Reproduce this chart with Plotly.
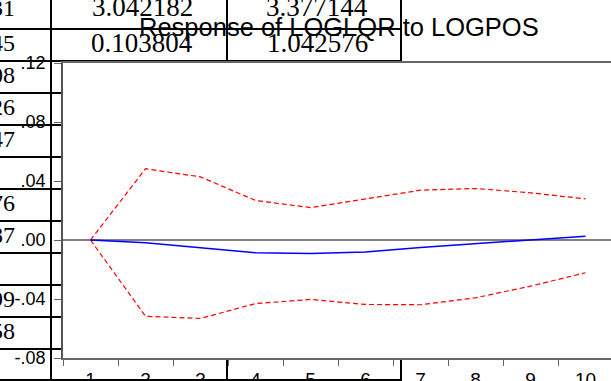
import plotly.graph_objects as go

# ---- data ----
periods = ["1", "2", "3", "4", "5", "6", "7", "8", "9", "10"]
response = [0.0, -0.0019, -0.0053, -0.0087, -0.0092, -0.0081, -0.0050, -0.0025, 0.0000, 0.0026]
upper_band = [0.0, 0.0483, 0.0428, 0.0268, 0.0220, 0.0281, 0.0338, 0.0349, 0.0320, 0.0279]
lower_band = [0.0, -0.0517, -0.0532, -0.0431, -0.0403, -0.0437, -0.0439, -0.0392, -0.0313, -0.0222]
y_tickvals = [-0.08, -0.04, 0.0, 0.04, 0.08, 0.12]
y_ticktext = ["-.08", "-.04", ".00", ".04", ".08", ".12"]
title_text = "Response of LOGLQR to LOGPOS"

# background table (visible around the chart)
table_top_rows = [["3.042182", "3.377144"], ["0.103804", "1.042576"]]
table_left_col = ["31", "45", "08", "26", "47", "", "76", "87", "", "99", "58", ""]

# ---- geometry (pixels) ----
W, H = 611, 381
L, R, T, B = 63, 0, 63, 23
PW, PH = W - L - R, H - T - B


def px(x):
    return (x - L) / PW


def py(y):
    return (H - B - y) / PH


fig = go.Figure()
fig.add_trace(go.Scatter(x=periods, y=upper_band, mode="lines",
                         line=dict(color="#ff0000", width=1.2, dash="5px,3px"),
                         showlegend=False, hoverinfo="skip"))
fig.add_trace(go.Scatter(x=periods, y=lower_band, mode="lines",
                         line=dict(color="#ff0000", width=1.2, dash="5px,3px"),
                         showlegend=False, hoverinfo="skip"))
fig.add_trace(go.Scatter(x=periods, y=response, mode="lines",
                         line=dict(color="#0000ff", width=1.5),
                         showlegend=False, hoverinfo="skip"))

shapes = []
blk = dict(color="black", width=2)


def seg(x0, y0, x1, y1):
    shapes.append(dict(type="line", xref="paper", yref="paper",
                       x0=px(x0), y0=py(y0), x1=px(x1), y1=py(y1), line=blk, layer="below"))


seg(51, 0, 51, 381)
for xv in (227, 401):
    seg(xv, 0, xv, 61)
    seg(xv, 358, xv, 381)
seg(0, 29, 401, 29)
seg(0, 61, 401, 61)
for k in range(3, 12):
    yv = -3 + 32 * k
    seg(0, yv, 63, yv)
seg(0, 380, 401, 380)

annotations = []
tfont = dict(family="Liberation Serif, Times New Roman, serif", size=27, color="black")
lfont = dict(family="Liberation Serif, Times New Roman, serif", size=24, color="black")
row_centers = [7, 42.5]
col_centers = [142, 317]
for r, row in enumerate(table_top_rows):
    for c, txt in enumerate(row):
        annotations.append(dict(text=txt, xref="paper", yref="paper", x=px(col_centers[c]),
                                y=py(row_centers[r]), xanchor="center", yanchor="middle",
                                showarrow=False, font=tfont))
for k, txt in enumerate(table_left_col):
    if not txt:
        continue
    yc = -3 + 32 * k + 14 if k > 0 else 8
    annotations.append(dict(text=txt, xref="paper", yref="paper", x=px(17),
                            y=py(yc), xanchor="right", yanchor="middle",
                            showarrow=False, font=lfont))

annotations.append(dict(text=title_text, xref="paper", yref="paper", x=px(338.5), y=py(26.5),
                        xanchor="center", yanchor="middle", showarrow=False,
                        font=dict(family="Liberation Sans, Arial, sans-serif", size=25.5, color="black")))

fig.update_layout(
    width=W, height=H, autosize=False,
    margin=dict(l=L, r=R, t=T, b=B, pad=0, autoexpand=False),
    paper_bgcolor="rgba(0,0,0,0)",
    plot_bgcolor="white",
    shapes=shapes,
    annotations=annotations,
    font=dict(family="Liberation Sans, Arial, sans-serif", color="black"),
    xaxis=dict(type="category", range=[-0.5, -0.5 + PW / 55.0], showgrid=False, automargin=False,
               showline=True, linecolor="#666666", linewidth=1.5, mirror=True,
               ticks="outside", tickson="boundaries", ticklen=6, tickcolor="#666666",
               tickfont=dict(size=19), ticklabelstandoff=3, zeroline=False),
    yaxis=dict(range=[-0.08, 0.12], showgrid=False, tickvals=y_tickvals, ticktext=y_ticktext,
               automargin=False,
               showline=True, linecolor="#555555", linewidth=1.5, mirror=False,
               ticks="outside", ticklen=7, tickcolor="#666666", tickfont=dict(size=18),
               ticklabelstandoff=5,
               zeroline=True, zerolinecolor="#808080", zerolinewidth=1.5),
)

fig.write_html("out.html", config=dict(displayModeBar=False, responsive=False),
               post_script="document.body.style.margin='0px';document.body.style.overflow='hidden';")
